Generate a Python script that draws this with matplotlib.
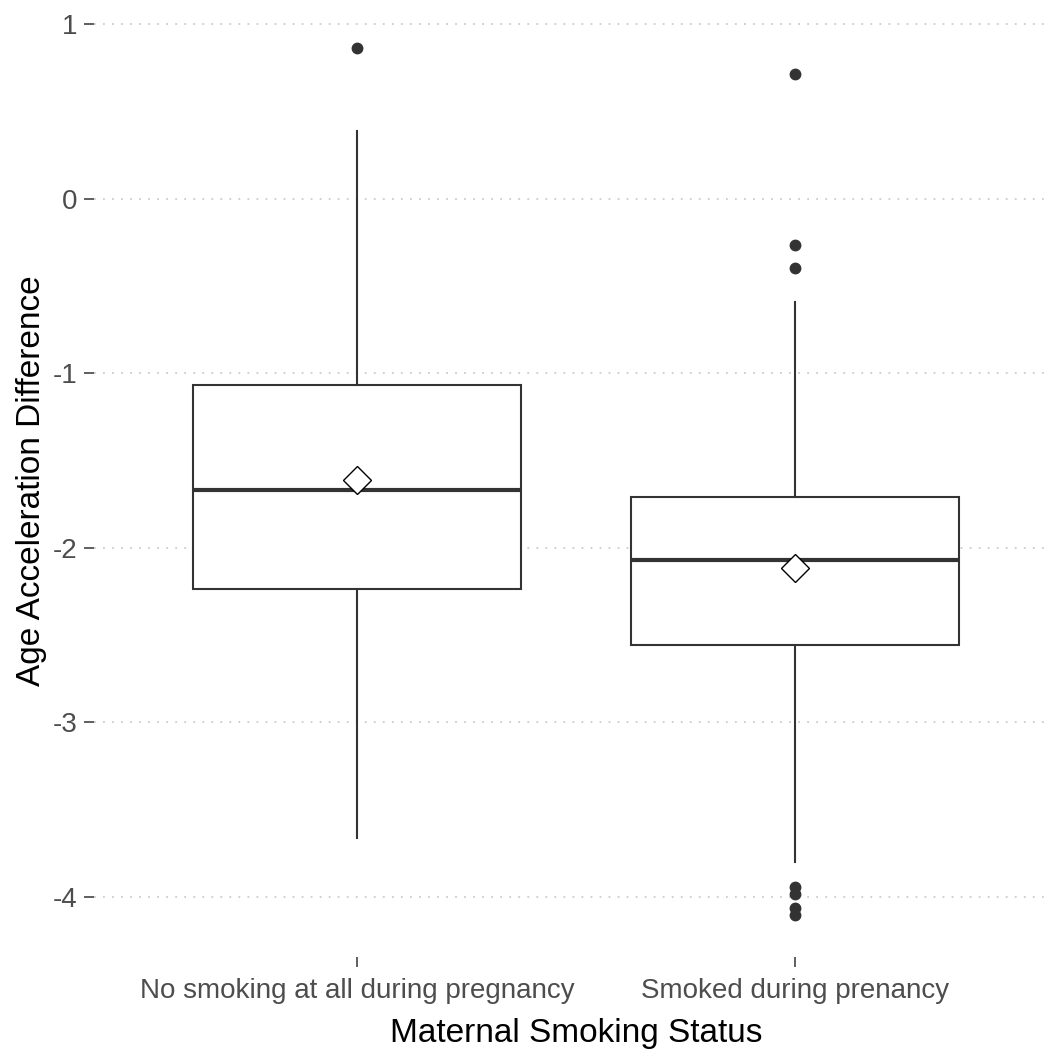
import matplotlib
matplotlib.use("Agg")
import matplotlib.pyplot as plt

# ---- data ----
categories = ["No smoking at all during pregnancy", "Smoked during prenancy"]
q1 = [-2.235, -2.554]
medians = [-1.67, -2.067]
q3 = [-1.065, -1.707]
whisker_low = [-3.66, -3.80]
whisker_high = [0.39, -0.59]
means = [-1.61, -2.113]
outliers = [[0.865], [0.716, -0.263, -0.40, -3.94, -3.98, -4.06, -4.10]]
yticks = [1, 0, -1, -2, -3, -4]

plt.rcParams['font.family'] = ['Liberation Sans', 'DejaVu Sans']

fig = plt.figure(figsize=(10.48, 10.5), dpi=100)
ax = fig.add_axes([94 / 1048, 1 - 957 / 1050, (1058 - 94) / 1048, (957 - 4.3) / 1050])

stats = []
for i in range(len(categories)):
    stats.append(dict(med=medians[i], q1=q1[i], q3=q3[i], whislo=whisker_low[i],
                      whishi=whisker_high[i], fliers=outliers[i], mean=means[i],
                      label=categories[i]))

col = "#333333"
ax.bxp(stats, positions=[1, 2], widths=0.75, patch_artist=True, showcaps=False,
       showmeans=True, zorder=3,
       boxprops=dict(facecolor="white", edgecolor=col, linewidth=1.5),
       whiskerprops=dict(color=col, linewidth=1.5),
       medianprops=dict(color=col, linewidth=3),
       flierprops=dict(marker='o', markerfacecolor=col, markeredgecolor=col,
                       markersize=7.5, linestyle='none'),
       meanprops=dict(marker='D', markerfacecolor='white', markeredgecolor='black',
                      markersize=14.5, markeredgewidth=1.0))

ax.set_xlim(0.4, 2.6)
ax.set_ylim(-4.343, 1.113)
ax.set_yticks(yticks)
ax.set_yticklabels([str(v) for v in yticks])
ax.set_xticks([1, 2])
ax.set_xticklabels(categories)

for s in ax.spines.values():
    s.set_visible(False)

ax.yaxis.grid(True, color="#cccccc", linestyle=(0, (1, 4)), linewidth=1.3, zorder=0)
ax.xaxis.grid(False)
ax.set_axisbelow(True)

ax.tick_params(axis='both', colors=col, length=7, width=1.1, labelsize=20,
               labelcolor="#4D4D4D")
ax.tick_params(axis='x', pad=8)
ax.tick_params(axis='y', pad=5)

ax.set_xlabel("Maternal Smoking Status", fontsize=24, color="black", labelpad=10)
ax.set_ylabel("Age Acceleration Difference", fontsize=24, color="black", labelpad=4)

fig.savefig("out.png", dpi=100, facecolor="white")
